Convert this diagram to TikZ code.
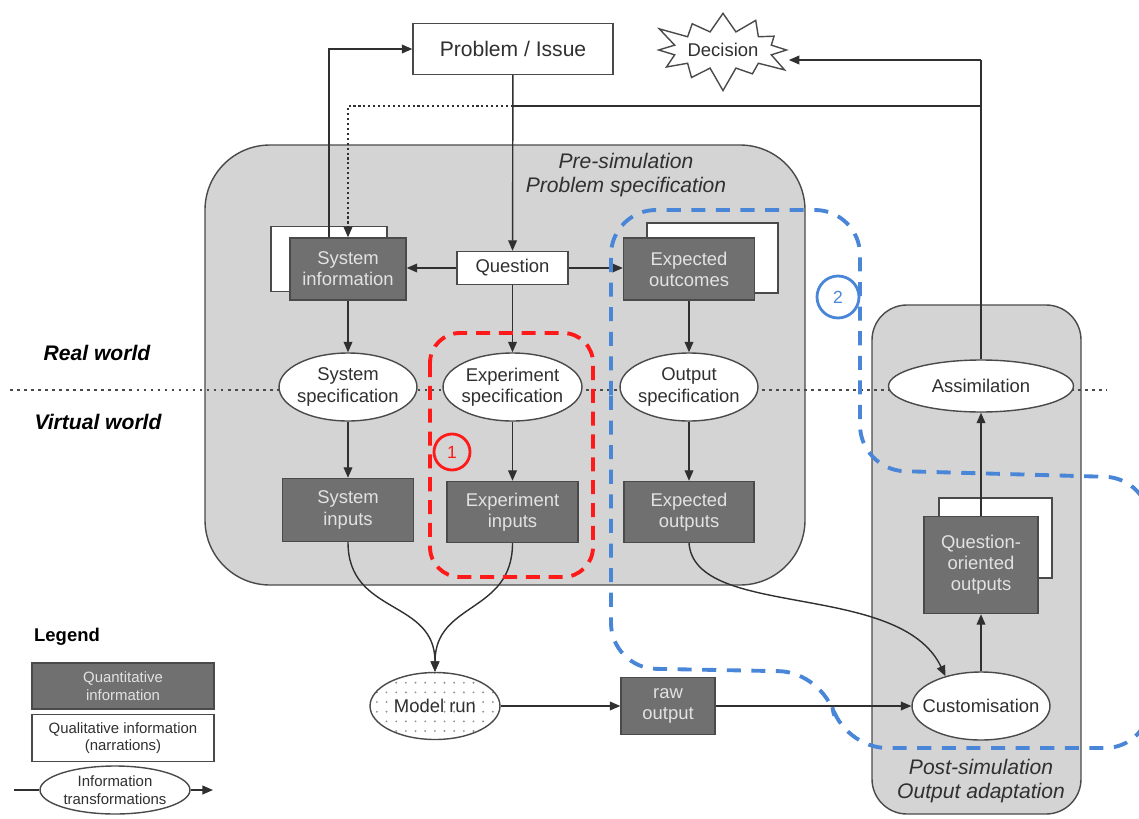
\documentclass[tikz,border=0pt]{standalone}
\usepackage{fontspec}
\setmainfont{Liberation Sans}
\usepackage{xcolor}
\usetikzlibrary{shapes.geometric, shapes.symbols, arrows.meta, patterns.meta, calc}

\definecolor{panelgray}{HTML}{D4D4D4}
\definecolor{quantgray}{HTML}{707070}
\definecolor{edgegray}{HTML}{4A4A4A}
\definecolor{quanttext}{HTML}{E2E2E2}
\definecolor{inktext}{HTML}{303030}
\definecolor{markblue}{HTML}{4A86D8}
\definecolor{markred}{HTML}{FF1A1A}

\begin{document}
\begin{tikzpicture}[
    x=0.02cm, y=-0.02cm,
    >={Triangle[length=6pt,width=5pt]},
    font=\fontsize{10.5}{12}\selectfont,
    panel/.style={draw=edgegray, fill=panelgray, line width=0.8pt, rounded corners=#1},
    quant/.style={rectangle, draw=edgegray, fill=quantgray, text=quanttext, line width=0.8pt, align=center, inner sep=0pt},
    qual/.style={rectangle, draw=edgegray, fill=white, text=inktext, line width=0.8pt, align=center, inner sep=0pt},
    sheet/.style={rectangle, draw=edgegray, fill=white, line width=0.8pt, inner sep=0pt},
    transf/.style={ellipse, draw=edgegray, fill=white, text=inktext, line width=0.8pt, align=center, inner xsep=-8pt, inner ysep=0pt},
    link/.style={draw=inktext, line width=0.8pt},
    world/.style={draw=edgegray, line width=0.9pt, dash pattern=on 1.5pt off 2.5pt},
    panellabel/.style={font=\fontsize{12}{14}\selectfont\itshape, text=inktext, align=center},
    worldlabel/.style={font=\fontsize{12}{14}\selectfont\bfseries\itshape, text=black},
    marker/.style={circle, draw=#1, text=#1, line width=1.6pt, inner sep=0pt, font=\fontsize{10}{12}\selectfont}
]
\useasboundingbox (0,0) rectangle (1139,818);

% Panels
\draw[panel=1.3cm] (205,145) rectangle (805,585);
\draw[panel=0.7cm] (872,305) rectangle (1081,814);
\node[panellabel] (prelabel) at (626,175) {Pre-simulation\\Problem specification};
\node[panellabel] (postlabel) at (981,781) {Post-simulation\\Output adaptation};

% Real / virtual world
\draw[world] (10,390) -- (1107,390);
\node[worldlabel] (real) at (97,353) {Real world};
\node[worldlabel] (virtual) at (98,422) {Virtual world};

% Problem and decision
\node[qual, minimum width=4cm, minimum height=1.02cm, font=\fontsize{12}{14}\selectfont] (prob) at (513,49) {Problem / Issue};
\node[starburst, draw=edgegray, fill=white, text=inktext, line width=0.8pt, starburst points=12, starburst point height=0.5cm, minimum width=2.85cm, minimum height=1.75cm, inner sep=0pt] (dec) at (723,50) {Decision};

% Pre-simulation
\node[sheet, minimum width=2.32cm, minimum height=1.3cm] (sysinfoback) at (329,259) {};
\node[quant, minimum width=2.32cm, minimum height=1.24cm] (sysinfo) at (348,269) {System\\information};
\node[qual, minimum width=2.22cm, minimum height=0.66cm] (question) at (512.5,268) {Question};
\node[sheet, minimum width=2.62cm, minimum height=1.4cm] (expoutcback) at (712.5,258) {};
\node[quant, minimum width=2.62cm, minimum height=1.24cm] (expoutc) at (689,269) {Expected\\outcomes};

\node[transf, minimum width=2.76cm, minimum height=1.36cm] (sysspec) at (348,387) {System\\specification};
\node[transf, minimum width=2.78cm, minimum height=1.36cm] (expspec) at (512.5,387) {Experiment\\specification};
\node[transf, minimum width=2.76cm, minimum height=1.36cm] (outspec) at (689,387) {Output\\specification};

\node[quant, minimum width=2.62cm, minimum height=1.26cm] (sysin) at (348,510) {System\\inputs};
\node[quant, minimum width=2.62cm, minimum height=1.22cm] (expin) at (512.5,512) {Experiment\\inputs};
\node[quant, minimum width=2.6cm, minimum height=1.22cm] (expout) at (689,512) {Expected\\outputs};

% Simulation
\node[transf, minimum width=2.6cm, minimum height=1.34cm, preaction={fill=white}, pattern={Dots[distance=5.5pt, radius=0.6pt]}, pattern color=gray!85] (model) at (435,706) {Model run};
\node[quant, minimum width=1.88cm, minimum height=1.14cm] (rawout) at (668,706) {raw\\output};

% Post-simulation
\node[sheet, minimum width=2.26cm, minimum height=1.6cm] (qooback) at (995.5,538) {};
\node[quant, minimum width=2.28cm, minimum height=1.94cm] (qoo) at (981,565) {Question-\\oriented\\outputs};
\node[transf, minimum width=2.76cm, minimum height=1.36cm] (custom) at (981,706) {Customisation};
\node[transf, minimum width=3.7cm, minimum height=1.04cm] (assim) at (981,386) {Assimilation};

% Connectors
\draw[link, ->] (prob) -- (question);
\draw[link, ->] (question.west) -- (question.west -| sysinfo.east);
\draw[link, ->] (question.east) -- (question.east -| expoutc.west);
\draw[link, ->] ([xshift=-0.38cm]sysinfo.north) |- (prob);

\coordinate (fbtop) at (981,60);
\coordinate (fbmid) at (981,106);
\draw[link] (assim) -- (fbtop);
\draw[link, ->] (fbtop) -- (fbtop -| dec.east);
\draw[link] (fbmid) -- (fbmid -| prob);
\draw[link, dash pattern=on 1.2pt off 1.6pt, ->] (fbmid -| prob) -| (sysinfo);

\draw[link, ->] (sysinfo) -- (sysspec);
\draw[link, ->] (question) -- (expspec);
\draw[link, ->] (expoutc) -- (outspec);
\draw[link, ->] (sysspec) -- (sysin);
\draw[link, ->] (expspec) -- (expin);
\draw[link, ->] (outspec) -- (expout);

\draw[link, ->] (sysin.south) to[out=-90, in=90, looseness=1.2] (model.north);
\draw[link, ->] (expin.south) to[out=-90, in=90, looseness=1.2] (model.north);
\draw[link, ->] (expout.south) .. controls (695,620) and (900,580) .. (custom.140);
\draw[link, ->] (model) -- (rawout);
\draw[link, ->] (rawout) -- (custom);
\draw[link, ->] (custom) -- (qoo);
\draw[link, ->] (qoo) -- (assim);

% Highlights
\draw[draw=markred, line width=2.2pt, dash pattern=on 8pt off 5pt, rounded corners=0.6cm] (430,333) rectangle (593,577);
\node[marker=markred, minimum size=0.72cm] (one) at (452,452) {1};
\draw[draw=markblue, line width=2.2pt, dash pattern=on 8pt off 6pt, rounded corners=0.9cm] (611,440) -- (611,210) -- (860,210) -- (860,470) -- (1150,478) -- (1150,748) -- (842,748) -- (824,672) -- (611,668) -- cycle;
\node[marker=markblue, minimum size=0.84cm] (two) at (838,297) {2};

% Legend
\node[font=\fontsize{10.5}{12}\selectfont\bfseries, text=black] (legend) at (67,637) {Legend};
\node[quant, minimum width=3.64cm, minimum height=0.92cm, font=\fontsize{8.5}{10}\selectfont] (lquant) at (123,686) {Quantitative\\information};
\node[qual, minimum width=3.64cm, minimum height=0.94cm, font=\fontsize{8.5}{10}\selectfont] (lqual) at (123,738) {Qualitative information\\(narrations)};
\node[transf, inner xsep=0pt, minimum width=3cm, minimum height=0.96cm, font=\fontsize{8.5}{10}\selectfont] (ltransf) at (115,790) {Information\\transformations};
\coordinate (lin) at (14,790);
\coordinate (lout) at (213,790);
\draw[link] (lin) -- (ltransf);
\draw[link, ->] (ltransf) -- (lout);

\end{tikzpicture}
\end{document}
